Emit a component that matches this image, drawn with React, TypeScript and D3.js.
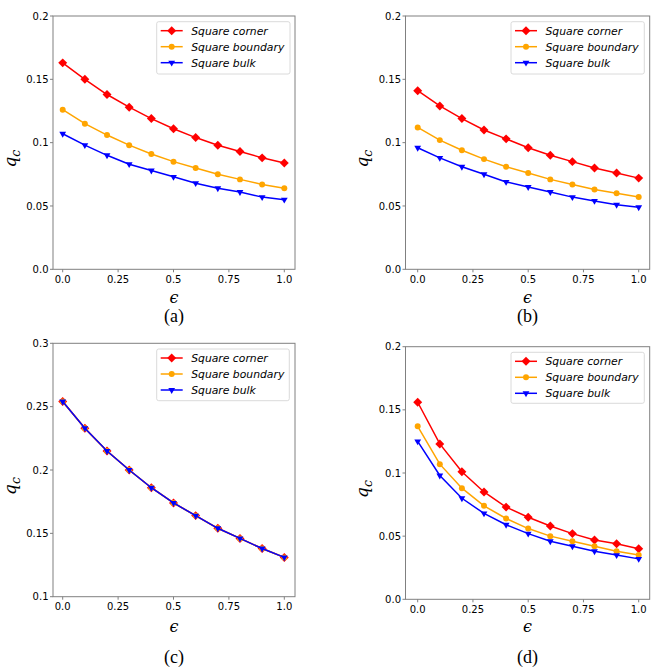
import React from "react";
import * as d3 from "d3";

const eps = [0, 0.1, 0.2, 0.3, 0.4, 0.5, 0.6, 0.7, 0.8, 0.9, 1.0];
const seriesNames = ["Square corner", "Square boundary", "Square bulk"];
const seriesColors = ["#ff0000", "#ffa500", "#0000ff"];
const seriesMarkers = ["diamond", "circle", "triangleDown"];

const aCorner = [0.163, 0.150, 0.138, 0.128, 0.119, 0.111, 0.104, 0.098, 0.093, 0.088, 0.084];
const aBoundary = [0.126, 0.115, 0.106, 0.098, 0.091, 0.085, 0.080, 0.075, 0.071, 0.067, 0.064];
const aBulk = [0.107, 0.098, 0.090, 0.083, 0.078, 0.073, 0.068, 0.064, 0.061, 0.057, 0.055];

const bCorner = [0.141, 0.129, 0.119, 0.110, 0.103, 0.096, 0.090, 0.085, 0.080, 0.076, 0.072];
const bBoundary = [0.112, 0.102, 0.094, 0.087, 0.081, 0.076, 0.071, 0.067, 0.063, 0.060, 0.057];
const bBulk = [0.096, 0.088, 0.081, 0.075, 0.069, 0.065, 0.061, 0.057, 0.054, 0.051, 0.049];

const cCorner = [0.254, 0.233, 0.215, 0.200, 0.186, 0.174, 0.164, 0.154, 0.146, 0.138, 0.131];
const cBoundary = [0.254, 0.233, 0.215, 0.200, 0.186, 0.174, 0.164, 0.154, 0.146, 0.138, 0.131];
const cBulk = [0.254, 0.233, 0.215, 0.200, 0.186, 0.174, 0.164, 0.154, 0.146, 0.138, 0.131];

const dCorner = [0.156, 0.123, 0.101, 0.085, 0.073, 0.065, 0.058, 0.052, 0.047, 0.044, 0.040];
const dBoundary = [0.137, 0.107, 0.088, 0.074, 0.064, 0.056, 0.050, 0.046, 0.042, 0.038, 0.035];
const dBulk = [0.125, 0.098, 0.080, 0.068, 0.059, 0.052, 0.046, 0.042, 0.038, 0.035, 0.032];

const xTicks = [0, 0.25, 0.5, 0.75, 1.0];
const xTickLabels = ["0.0", "0.25", "0.5", "0.75", "1.0"];
const yTicksLow = [0, 0.05, 0.1, 0.15, 0.2];
const yTickLabelsLow = ["0.0", "0.05", "0.1", "0.15", "0.2"];
const yTicksHigh = [0.1, 0.15, 0.2, 0.25, 0.3];
const yTickLabelsHigh = ["0.1", "0.15", "0.2", "0.25", "0.3"];

type PanelProps = {
  box: { x0: number; x1: number; y0: number; y1: number };
  xr: [number, number];
  yDomain: [number, number];
  yTicks: number[];
  yTickLabels: string[];
  series: number[][];
  legend: { x0: number; x1: number; y0: number; y1: number };
  caption: string;
  epsY: number;
  capY: number;
};

const markerPath = (kind: string) => {
  if (kind === "diamond") return d3.symbol().type(d3.symbolSquare).size(40)();
  if (kind === "circle") return d3.symbol().type(d3.symbolCircle).size(28)();
  return d3.symbol().type(d3.symbolTriangle).size(20)();
};
const markerRot = (kind: string) => (kind === "diamond" ? 45 : kind === "triangleDown" ? 180 : 0);

function Panel(p: PanelProps) {
  const x = d3.scaleLinear().domain([0, 1]).range(p.xr);
  const y = d3.scaleLinear().domain(p.yDomain).range([p.box.y1, p.box.y0]);
  const line = d3
    .line<number>()
    .x((_, i) => x(eps[i]))
    .y((v) => y(v));
  const spine = "#808080";
  const cx = (p.box.x0 + p.box.x1) / 2;
  const cy = (p.box.y0 + p.box.y1) / 2;
  return (
    <g>
      {p.series.map((s, si) => (
        <g key={si}>
          <path d={line(s) || ""} fill="none" stroke={seriesColors[si]} strokeWidth={1.5} />
          {s.map((v, i) => (
            <path
              key={i}
              d={markerPath(seriesMarkers[si]) || ""}
              transform={`translate(${x(eps[i])},${y(v)}) rotate(${markerRot(seriesMarkers[si])})`}
              fill={seriesColors[si]}
            />
          ))}
        </g>
      ))}
      <rect
        x={p.box.x0}
        y={p.box.y0}
        width={p.box.x1 - p.box.x0}
        height={p.box.y1 - p.box.y0}
        fill="none"
        stroke={spine}
        strokeWidth={1}
      />
      {xTicks.map((t, i) => (
        <g key={i}>
          <line x1={x(t)} x2={x(t)} y1={p.box.y1} y2={p.box.y1 + 3} stroke={spine} />
          <text
            x={x(t)}
            y={p.box.y1 + 13.3}
            textAnchor="middle"
            fontFamily="DejaVu Sans"
            fontSize={10}
            fill="#000"
          >
            {xTickLabels[i]}
          </text>
        </g>
      ))}
      {p.yTicks.map((t, i) => (
        <g key={i}>
          <line x1={p.box.x0 - 3} x2={p.box.x0} y1={y(t)} y2={y(t)} stroke={spine} />
          <text
            x={p.box.x0 - 4.5}
            y={y(t) + 3.6}
            textAnchor="end"
            fontFamily="DejaVu Sans"
            fontSize={10}
            fill="#000"
          >
            {p.yTickLabels[i]}
          </text>
        </g>
      ))}
      <rect
        x={p.legend.x0}
        y={p.legend.y0}
        width={p.legend.x1 - p.legend.x0}
        height={p.legend.y1 - p.legend.y0}
        rx={2}
        fill="#fff"
        fillOpacity={0.8}
        stroke="#d0d0d0"
        strokeWidth={0.8}
      />
      {seriesNames.map((n, si) => {
        const ry = p.legend.y0 + 9 + si * 16;
        const hx0 = p.legend.x0 + 4;
        const hx1 = p.legend.x0 + 26;
        return (
          <g key={si}>
            <line x1={hx0} x2={hx1} y1={ry} y2={ry} stroke={seriesColors[si]} strokeWidth={1.5} />
            <path
              d={markerPath(seriesMarkers[si]) || ""}
              transform={`translate(${(hx0 + hx1) / 2},${ry}) rotate(${markerRot(seriesMarkers[si])})`}
              fill={seriesColors[si]}
            />
            <text
              x={p.legend.x0 + 34.5}
              y={ry + 3.8}
              fontFamily="DejaVu Sans"
              fontStyle="italic"
              fontSize={10.8}
              fill="#000"
            >
              {n}
            </text>
          </g>
        );
      })}
      <text
        transform={`translate(${p.box.x0 - 37.5},${cy + 16}) rotate(-90)`}
        textAnchor="middle"
        fontFamily="DejaVu Serif"
        fontStyle="italic"
        fontSize={17}
        fill="#000"
      >
        q
        <tspan fontSize={12.5} dy={4}>
          c
        </tspan>
      </text>
      <text
        x={cx}
        y={p.epsY}
        textAnchor="middle"
        fontFamily="DejaVu Serif"
        fontStyle="italic"
        fontSize={16}
        fill="#000"
      >
        ϵ
      </text>
      <text x={cx} y={p.capY} textAnchor="middle" fontFamily="Liberation Serif" fontSize={18} fill="#000">
        {p.caption}
      </text>
    </g>
  );
}

export default function App() {
  return (
    <svg
      width={664}
      height={668}
      style={{ position: "absolute", left: 0, top: 0, background: "#fff" }}
    >
      <rect width={664} height={668} fill="#fff" />
      <Panel
        box={{ x0: 53, x1: 295, y0: 16, y1: 269.3 }}
        xr={[62.7, 284.3]}
        yDomain={[0, 0.2]}
        yTicks={yTicksLow}
        yTickLabels={yTickLabelsLow}
        series={[aCorner, aBoundary, aBulk]}
        legend={{ x0: 156.7, x1: 290, y0: 21.7, y1: 74 }}
        caption="(a)"
        epsY={303}
        capY={322}
      />
      <Panel
        box={{ x0: 405.5, x1: 649.7, y0: 16, y1: 269.3 }}
        xr={[417.7, 638.7]}
        yDomain={[0, 0.2]}
        yTicks={yTicksLow}
        yTickLabels={yTickLabelsLow}
        series={[bCorner, bBoundary, bBulk]}
        legend={{ x0: 511, x1: 644.3, y0: 21.7, y1: 74 }}
        caption="(b)"
        epsY={303}
        capY={322}
      />
      <Panel
        box={{ x0: 53, x1: 295, y0: 343.3, y1: 596.7 }}
        xr={[62.7, 284.3]}
        yDomain={[0.1, 0.3]}
        yTicks={yTicksHigh}
        yTickLabels={yTickLabelsHigh}
        series={[cCorner, cBoundary, cBulk]}
        legend={{ x0: 156.7, x1: 289.3, y0: 349, y1: 400.7 }}
        caption="(c)"
        epsY={632}
        capY={663}
      />
      <Panel
        box={{ x0: 405.5, x1: 649.7, y0: 346.7, y1: 599.3 }}
        xr={[417.7, 638.7]}
        yDomain={[0, 0.2]}
        yTicks={yTicksLow}
        yTickLabels={yTickLabelsLow}
        series={[dCorner, dBoundary, dBulk]}
        legend={{ x0: 511, x1: 644.3, y0: 352.3, y1: 403.3 }}
        caption="(d)"
        epsY={632}
        capY={663}
      />
    </svg>
  );
}
